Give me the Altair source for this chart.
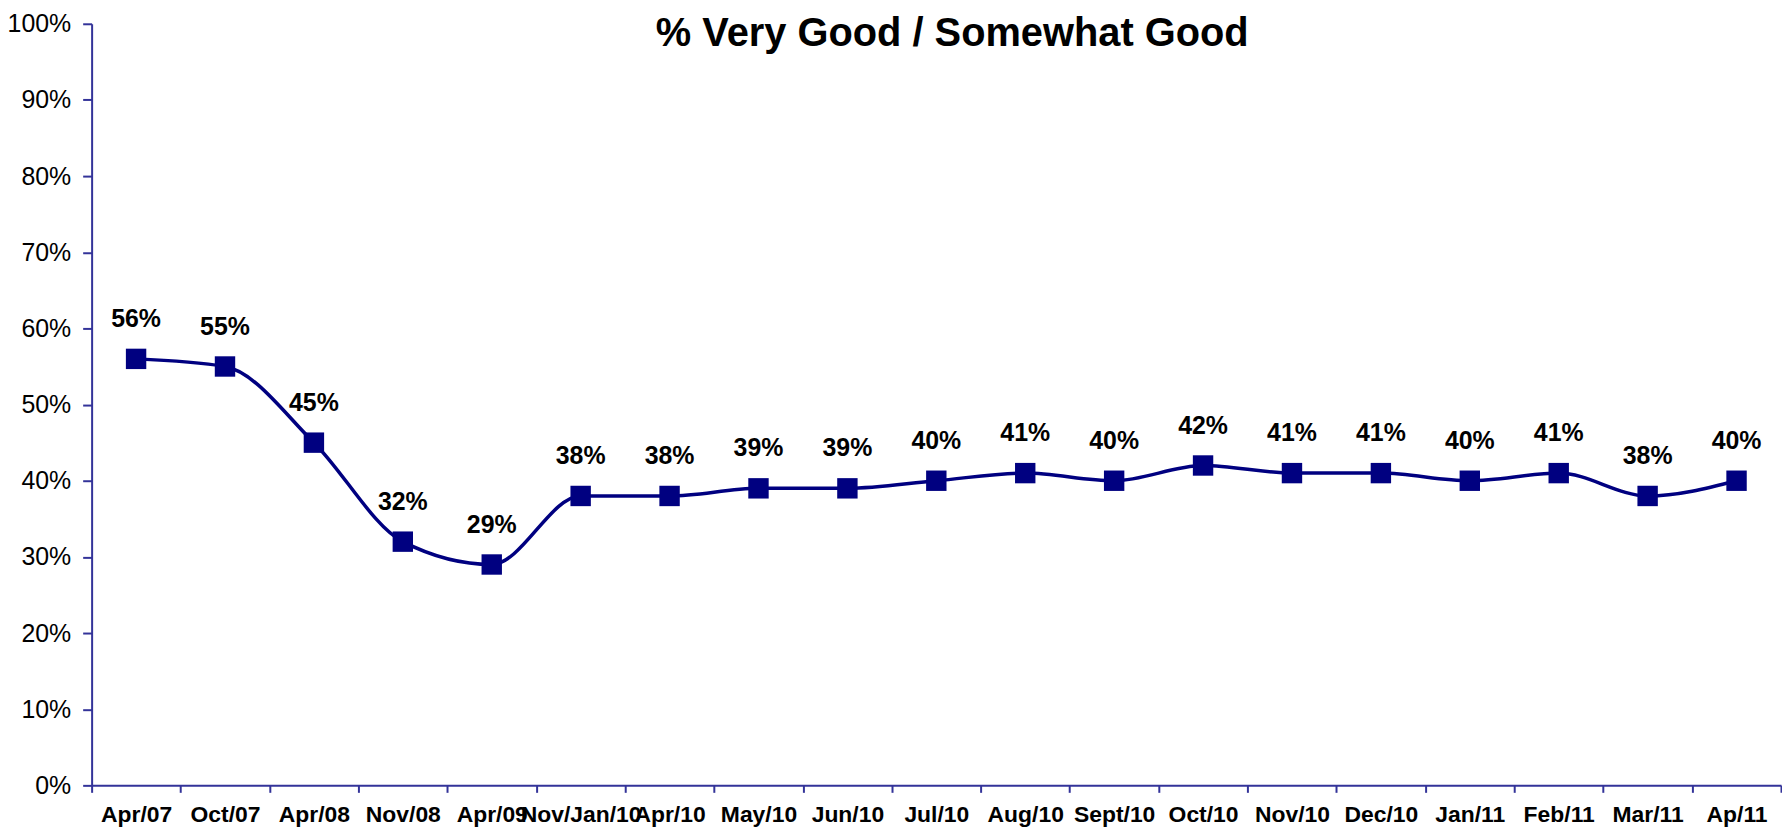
import altair as alt
import pandas as pd

periods = ["Apr/07", "Oct/07", "Apr/08", "Nov/08", "Apr/09", "Nov/Jan/10", "Apr/10",
           "May/10", "Jun/10", "Jul/10", "Aug/10", "Sept/10", "Oct/10", "Nov/10",
           "Dec/10", "Jan/11", "Feb/11", "Mar/11", "Ap/11"]
values = [56, 55, 45, 32, 29, 38, 38, 39, 39, 40, 41, 40, 42, 41, 41, 40, 41, 38, 40]
labels = [f"{v}%" for v in values]
y_ticks = list(range(0, 101, 10))
title_text = "% Very Good / Somewhat Good"

df = pd.DataFrame({"period": periods, "value": values, "label": labels})

FONT = "Liberation Sans"
NAVY = "#000080"
AXIS_C = "#333399"
W, H = 1697, 765

x_enc = alt.X(
    "period:N",
    sort=periods,
    scale=alt.Scale(type="band", paddingInner=0, paddingOuter=0),
    axis=alt.Axis(
        title=None, labelAngle=0, tickBand="extent", labelOverlap=False,
        labelFont=FONT, labelFontSize=23, labelFontWeight="bold", labelColor="black",
        labelPadding=11, tickSize=7, tickColor=AXIS_C, tickWidth=2,
        domainColor=AXIS_C, domainWidth=2, grid=False, labelBound=False,
    ),
)
y_enc = alt.Y(
    "value:Q",
    scale=alt.Scale(domain=[0, 100], nice=False, zero=True),
    axis=alt.Axis(
        title=None, values=y_ticks, labelExpr="datum.value + '%'",
        labelFont=FONT, labelFontSize=25, labelColor="black",
        labelPadding=12, tickSize=9, tickColor=AXIS_C, tickWidth=2,
        domainColor=AXIS_C, domainWidth=2, grid=False,
    ),
)

base = alt.Chart(df).encode(x=x_enc, y=y_enc)

line = base.mark_line(color=NAVY, strokeWidth=3.5, interpolate="monotone")
points = base.mark_point(shape="square", filled=True, size=420, color=NAVY, opacity=1)
text = base.mark_text(
    font=FONT, fontSize=25, fontWeight="bold", color="black",
    baseline="alphabetic", align="center", dy=-32,
).encode(text="label:N")

title_df = pd.DataFrame({"t": [title_text]})
title = alt.Chart(title_df).mark_text(
    font=FONT, fontSize=40, fontWeight="bold", color="black",
    baseline="alphabetic", align="center",
).encode(text="t:N", x=alt.value(W / 2 + 16), y=alt.value(22))

chart = alt.layer(line, points, text, title).properties(
    width=W, height=H,
    autosize=alt.AutoSizeParams(type="none"),
    padding={"left": 84, "top": 14, "right": 1, "bottom": 45},
    background="white",
).configure_view(strokeWidth=0)

chart.save("out.html", embed_options={"renderer": "svg", "actions": False})
